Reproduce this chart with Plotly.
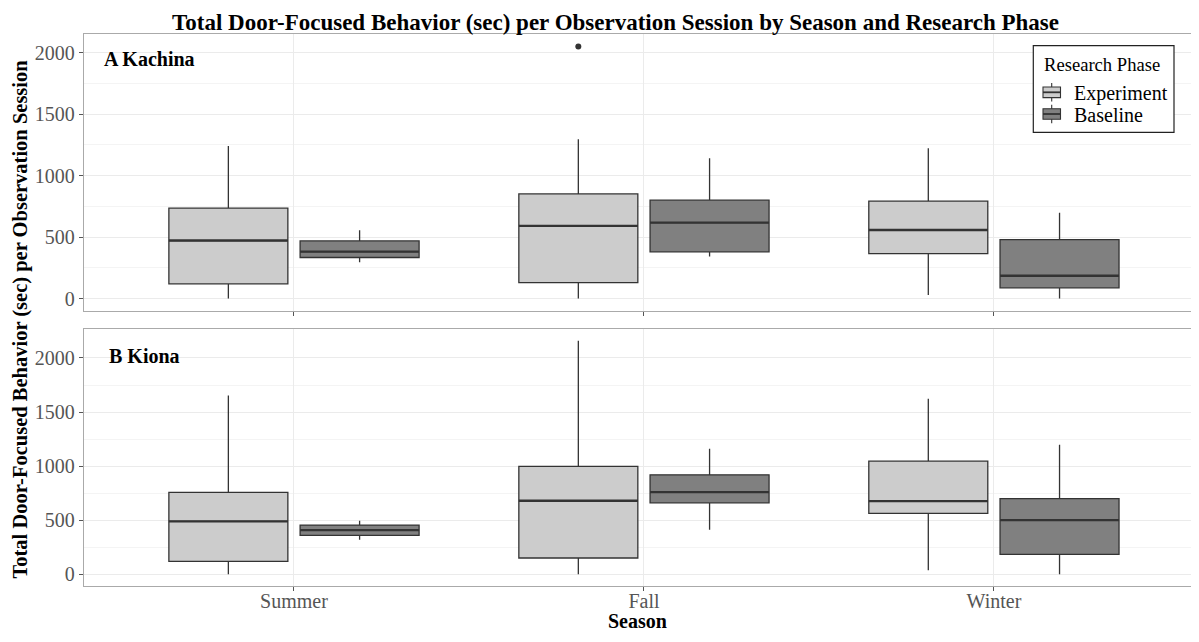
import plotly.graph_objects as go

seasons = ["Summer", "Fall", "Winter"]
phases = ["Experiment", "Baseline"]

# Panel A: Kachina
kachina_exp = dict(low=[0, 0, 28], q1=[120, 130, 366], med=[472, 591, 558], q3=[735, 851, 792], high=[1241, 1296, 1222])
kachina_base = dict(low=[296, 342, 0], q1=[334, 380, 87], med=[382, 618, 185], q3=[469, 800, 480], high=[556, 1141, 699])
kachina_outlier_season = ["Fall"]
kachina_outlier_value = [2050]

# Panel B: Kiona
kiona_exp = dict(low=[0, 0, 37], q1=[120, 151, 563], med=[489, 680, 677], q3=[757, 997, 1046], high=[1652, 2160, 1624])
kiona_base = dict(low=[320, 412, 0], q1=[360, 661, 185], med=[409, 760, 501], q3=[455, 920, 699], high=[495, 1160, 1197])

y_ticks = [0, 500, 1000, 1500, 2000]

FONT = "Liberation Serif"
FILL = {"Experiment": "#cccccc", "Baseline": "#808080"}
OFFSET = {"Experiment": -0.1875, "Baseline": 0.1875}
BOXW = 0.34
LINE = "#333333"

# page has an 8px body margin; figure sized to fit the 1199x642 window
W, H = 1191, 626
L, T = 76, 26
PLOT_W, PLOT_H = 1115, 552

def px2x(xa):  # absolute window px -> paper x
    return (xa - 8 - L) / PLOT_W

def px2y(ya):  # absolute window px -> paper y
    return (T + 8 + PLOT_H - ya) / PLOT_H

fig = go.Figure()

def add_panel(stats_by_phase, xa, ya):
    for ph, st in stats_by_phase.items():
        xs = [i + OFFSET[ph] for i in range(len(seasons))]
        fig.add_trace(go.Box(
            x=xs, q1=st["q1"], median=st["med"], q3=st["q3"],
            lowerfence=st["low"], upperfence=st["high"],
            width=BOXW, fillcolor=FILL[ph], line=dict(color=LINE, width=1.3),
            whiskerwidth=0, name=ph, showlegend=False,
            xaxis=xa, yaxis=ya, hoverinfo="skip"))
        # thicker median line (degenerate box)
        fig.add_trace(go.Box(
            x=xs, q1=st["med"], median=st["med"], q3=st["med"],
            lowerfence=st["med"], upperfence=st["med"],
            width=BOXW, fillcolor=FILL[ph], line=dict(color=LINE, width=2.4),
            whiskerwidth=0, name=ph, showlegend=False,
            xaxis=xa, yaxis=ya, hoverinfo="skip"))

add_panel({"Experiment": kachina_exp, "Baseline": kachina_base}, "x", "y")
add_panel({"Experiment": kiona_exp, "Baseline": kiona_base}, "x2", "y2")

fig.add_trace(go.Scatter(
    x=[seasons.index(s) + OFFSET["Experiment"] for s in kachina_outlier_season],
    y=kachina_outlier_value, mode="markers",
    marker=dict(color=LINE, size=6), showlegend=False, xaxis="x", yaxis="y", hoverinfo="skip"))

tickfont = dict(family=FONT, size=20, color="#555555")
common_x = dict(range=[-0.6, 2.586], tickvals=[0, 1, 2], ticktext=seasons,
                showgrid=True, gridcolor="#ebebeb", gridwidth=1, zeroline=False,
                ticks="outside", ticklen=4, tickcolor="#555555", tickfont=tickfont,
                showline=True, linecolor="#aaaaaa", linewidth=1.3, mirror=True)
common_y = dict(tickvals=y_ticks, showgrid=True, gridcolor="#ebebeb", gridwidth=1,
                zeroline=False, ticks="outside", ticklen=4, tickcolor="#555555", tickfont=tickfont,
                showline=True, linecolor="#aaaaaa", linewidth=1.3,
                minor=dict(tickvals=[250, 750, 1250, 1750], showgrid=True, gridcolor="#f4f4f4", gridwidth=0.8, ticks=""))

# custom ggplot-style legend
shapes = [dict(type="rect", xref="paper", yref="paper",
               x0=px2x(1033.3), x1=px2x(1174), y0=px2y(132.3), y1=px2y(45.7),
               fillcolor="white", line=dict(color="#222222", width=1.2), layer="above")]
legend_ann = [dict(text="Research Phase", xref="paper", yref="paper", x=px2x(1041.5), y=px2y(64),
                   xanchor="left", yanchor="middle", showarrow=False,
                   font=dict(family=FONT, size=18.6, color="black"))]
for ph, yc in zip(phases, [92.3, 114.0]):
    cx = 1051.7
    shapes.append(dict(type="line", xref="paper", yref="paper", x0=px2x(cx), x1=px2x(cx),
                       y0=px2y(yc + 9.3), y1=px2y(yc - 9.3), line=dict(color=LINE, width=1.1), layer="above"))
    shapes.append(dict(type="rect", xref="paper", yref="paper", x0=px2x(1043), x1=px2x(1060.5),
                       y0=px2y(yc + 5.3), y1=px2y(yc - 5.3), fillcolor=FILL[ph],
                       line=dict(color=LINE, width=1.1), layer="above"))
    shapes.append(dict(type="line", xref="paper", yref="paper", x0=px2x(1043), x1=px2x(1060.5),
                       y0=px2y(yc), y1=px2y(yc), line=dict(color=LINE, width=1.8), layer="above"))
    legend_ann.append(dict(text=ph, xref="paper", yref="paper", x=px2x(1071.7), y=px2y(yc + 0.8),
                           xanchor="left", yanchor="middle", showarrow=False,
                           font=dict(family=FONT, size=20, color="black")))

fig.update_layout(
    width=W, height=H,
    margin=dict(l=L, r=0, t=T, b=H - T - PLOT_H),
    paper_bgcolor="white", plot_bgcolor="white",
    boxmode="overlay",
    showlegend=False,
    font=dict(family=FONT, size=20, color="black"),
    xaxis=dict(**common_x, anchor="y", showticklabels=False),
    yaxis=dict(**common_y, domain=[0.498, 1.0], range=[-102, 2152], anchor="x"),
    xaxis2=dict(**common_x, anchor="y2", matches="x", ticklabelstandoff=-7),
    yaxis2=dict(**common_y, domain=[0.0, 0.4656], range=[-108, 2268], anchor="x2"),
    shapes=shapes,
    annotations=[
        dict(text="<b>Total Door-Focused Behavior (sec) per Observation Session by Season and Research Phase</b>",
             xref="paper", yref="paper", x=px2x(615), y=px2y(8.5), xanchor="center", yanchor="top",
             showarrow=False, borderpad=0, font=dict(family=FONT, size=23, color="black")),
        dict(text="<b>A Kachina</b>", xref="x domain", yref="y domain", x=0.0161, y=0.91,
             xanchor="left", yanchor="middle", showarrow=False, font=dict(family=FONT, size=20, color="black")),
        dict(text="<b>B Kiona</b>", xref="x2 domain", yref="y2 domain", x=0.0205, y=0.896,
             xanchor="left", yanchor="middle", showarrow=False, font=dict(family=FONT, size=20, color="black")),
        dict(text="<b>Total Door-Focused Behavior (sec) per Observation Session</b>", textangle=-90,
             xref="paper", yref="paper", x=px2x(19.5), y=px2y(319), xanchor="center", yanchor="middle",
             showarrow=False, font=dict(family=FONT, size=20.5, color="black")),
        dict(text="<b>Season</b>", xref="paper", yref="paper", x=px2x(637), y=px2y(633.5),
             xanchor="center", yanchor="bottom", showarrow=False, font=dict(family=FONT, size=20, color="black")),
    ] + legend_ann,
)

fig.write_html("out.html")
